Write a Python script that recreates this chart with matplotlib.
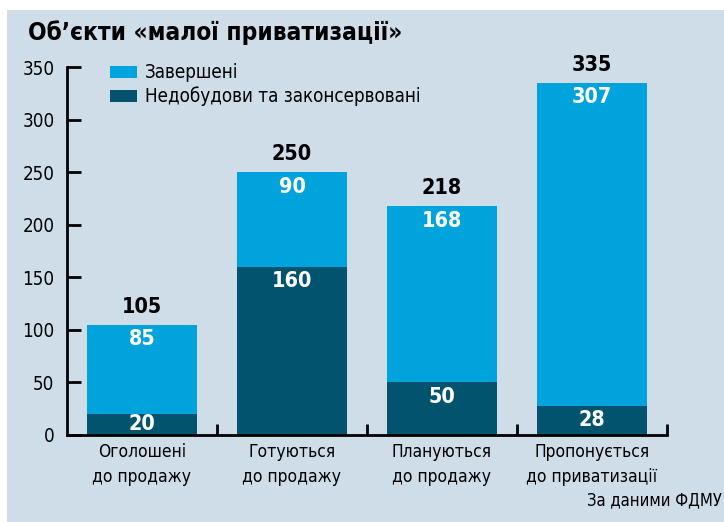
import matplotlib
matplotlib.use("Agg")
import matplotlib.pyplot as plt
from matplotlib.patches import Rectangle

categories = ["Оголошені\nдо продажу", "Готуються\nдо продажу", "Плануються\nдо продажу", "Пропонується\nдо приватизації"]
bottom_vals = [20, 160, 50, 28]
top_vals = [85, 90, 168, 307]
totals = [105, 250, 218, 335]
yticks = [0, 50, 100, 150, 200, 250, 300, 350]
series_names = ["Завершені", "Недобудови та законсервовані"]
title = "Об’єкти «малої приватизації»"
source = "За даними ФДМУ"

BG = "#cedde8"
LIGHT = "#00a3dc"
DARK = "#02546e"

FONT = ['DejaVu Sans']
plt.rcParams['font.family'] = FONT
FS = dict(family=FONT, stretch='condensed')

fig = plt.figure(figsize=(7.24, 5.22), dpi=100)
fig.patch.set_facecolor('white')
fig.patches.append(Rectangle((7/724, 0), 1, 1 - 10/522, transform=fig.transFigure,
                             facecolor=BG, edgecolor='none', zorder=-10))

ax = fig.add_axes([67/724, 1 - 435/522, 600/724, 368/522])
ax.set_facecolor('none')
x = list(range(len(categories)))
w = 0.73
ax.bar(x, bottom_vals, width=w, color=DARK, zorder=2)
ax.bar(x, top_vals, width=w, bottom=bottom_vals, color=LIGHT, zorder=2)
ax.set_xlim(-0.5, 3.5)
ax.set_ylim(0, 350)

for s in ['top', 'right']:
    ax.spines[s].set_visible(False)
for s in ['left', 'bottom']:
    ax.spines[s].set_linewidth(2)
    ax.spines[s].set_color('black')

ax.set_yticks(yticks)
ax.set_yticklabels([str(v) for v in yticks], fontsize=13.5, **FS)
ax.tick_params(axis='y', direction='in', length=10, width=2, pad=9)
ax.set_xticks([0.5, 1.5, 2.5, 3.5])
ax.set_xticklabels([])
ax.tick_params(axis='x', direction='in', length=8, width=2)
ax.set_xticks(x, minor=True)
ax.set_xticklabels(categories, minor=True, fontsize=12.5, linespacing=1.45, **FS)
ax.tick_params(axis='x', which='minor', length=0, pad=6)

for i in x:
    b = bottom_vals[i]
    t = top_vals[i]
    yb = max(b - 14, b / 2)
    ax.text(i, yb, str(b), ha='center', va='center', color='white', fontsize=15.5,
            fontweight='bold', zorder=3, **FS)
    tot = b + t
    yt = max(tot - 14, b + t / 2)
    ax.text(i, yt, str(t), ha='center', va='center', color='white', fontsize=15.5,
            fontweight='bold', zorder=3, **FS)
    ax.annotate(str(totals[i]), (i, tot), xytext=(0, 13), textcoords='offset points',
                ha='center', va='center', color='black', fontsize=15.5, fontweight='bold', **FS)

# legend
for k, (name, col) in enumerate(zip(series_names, [LIGHT, DARK])):
    yy = 1 - (72 + 24 * k) / 522
    fig.patches.append(Rectangle((110/724, yy - 6/522), 27/724, 12/522, transform=fig.transFigure,
                                 facecolor=col, edgecolor='none'))
    fig.text(145/724, yy, name, ha='left', va='center', fontsize=13.5, **FS)

fig.text(28/724, 1 - 33/522, title, ha='left', va='center', fontsize=17.5, fontweight='bold', **FS)
fig.text(722/724, 1 - 500/522, source, ha='right', va='center', fontsize=12, **FS)

fig.savefig("out.png", dpi=100, facecolor='white')
